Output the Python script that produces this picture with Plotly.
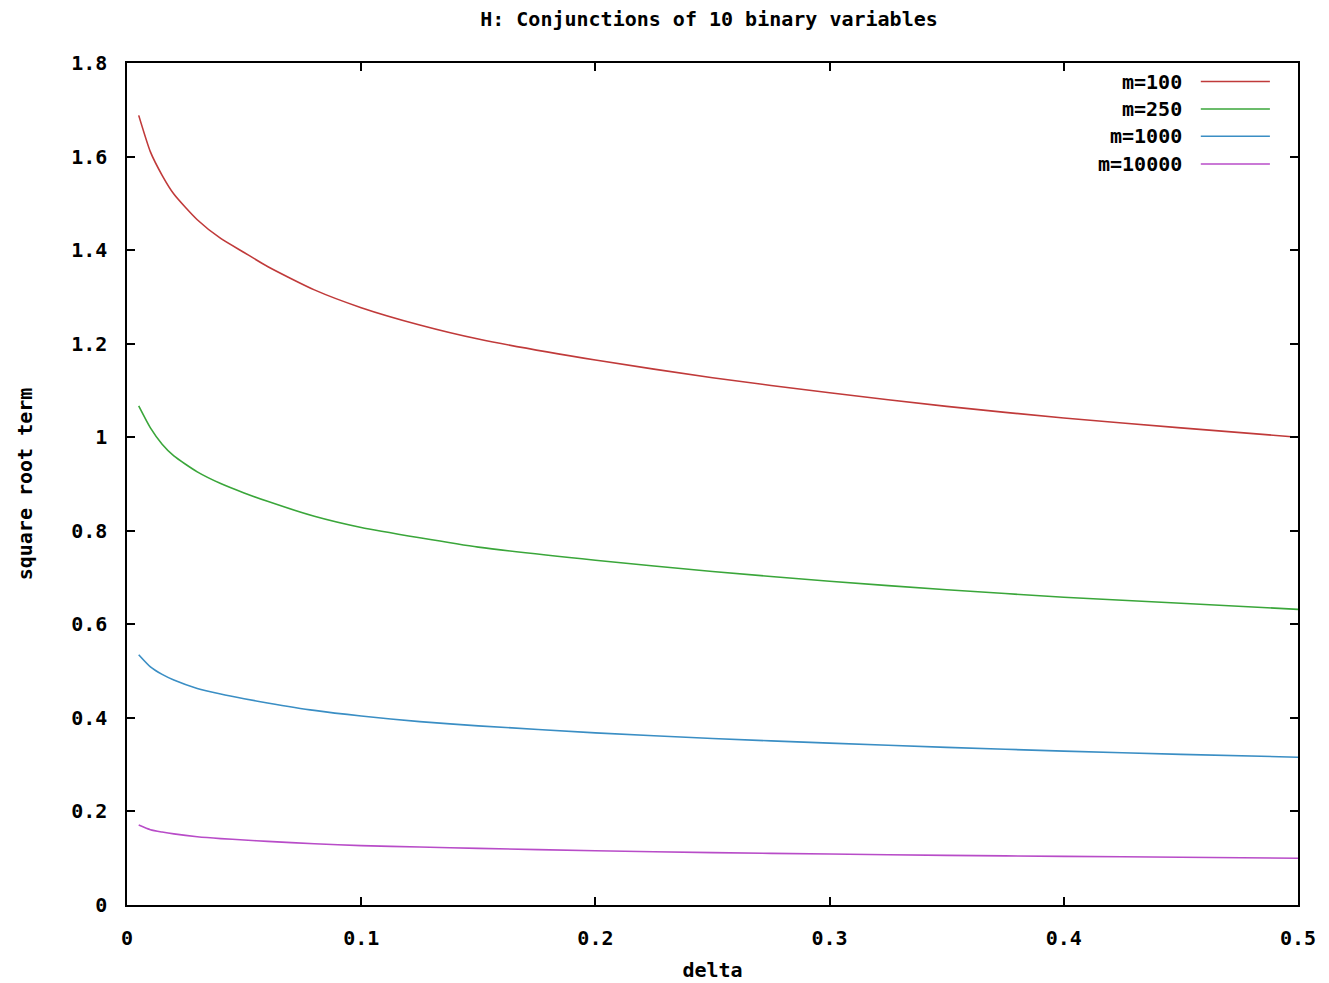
import plotly.graph_objects as go

# Data
delta = [0.005, 0.01, 0.015, 0.02, 0.03, 0.04, 0.05, 0.06, 0.08, 0.1,
         0.125, 0.15, 0.2, 0.25, 0.3, 0.35, 0.4, 0.45, 0.5]

m100 = [1.688, 1.61, 1.56, 1.52, 1.465, 1.425, 1.395, 1.365, 1.315, 1.277,
        1.24, 1.21, 1.165, 1.127, 1.095, 1.066, 1.041, 1.02, 1.0]
m250 = [1.067, 1.02, 0.985, 0.96, 0.926, 0.901, 0.881, 0.863, 0.831, 0.807,
        0.785, 0.765, 0.737, 0.713, 0.692, 0.674, 0.658, 0.645, 0.632]
m1000 = [0.535, 0.509, 0.493, 0.481, 0.463, 0.451, 0.441, 0.432, 0.416, 0.404,
         0.392, 0.383, 0.368, 0.356, 0.346, 0.337, 0.329, 0.322, 0.316]
m10000 = [0.171, 0.161, 0.156, 0.152, 0.146, 0.142, 0.139, 0.136, 0.131, 0.127,
          0.124, 0.121, 0.116, 0.112, 0.109, 0.106, 0.104, 0.102, 0.1]

series_names = ["m=100", "m=250", "m=1000", "m=10000"]
series_vals = [m100, m250, m1000, m10000]
colors = ["#c03a3a", "#3aa63a", "#3a8ec4", "#b84cc8"]

x_ticks = [0, 0.1, 0.2, 0.3, 0.4, 0.5]
y_ticks = [0, 0.2, 0.4, 0.6, 0.8, 1.0, 1.2, 1.4, 1.6, 1.8]

FONT = "DejaVu Sans Mono"
FS = 20

def font():
    return dict(family=FONT, size=FS, color="black", weight="bold")

fig = go.Figure()
for name, vals, col in zip(series_names, series_vals, colors):
    fig.add_trace(go.Scatter(x=delta, y=vals, mode="lines", name=name,
                             line=dict(color=col, width=1.6, shape="spline", smoothing=0.6),
                             showlegend=False))

# gnuplot-style legend: text right-aligned, sample line to the right
legend_y = [0.978, 0.9454, 0.913, 0.880]
for name, col, ly in zip(series_names, colors, legend_y):
    fig.add_annotation(x=0.9026, y=ly, xref="paper", yref="paper", text=name,
                       showarrow=False, xanchor="right", yanchor="middle",
                       font=font())
    fig.add_shape(type="line", xref="paper", yref="paper",
                  x0=0.917, x1=0.976, y0=ly, y1=ly,
                  line=dict(color=col, width=1.6))

axis_common = dict(showline=True, linecolor="black", linewidth=1.5, mirror="ticks",
                   ticks="inside", ticklen=8, tickcolor="black", tickwidth=1.5,
                   showgrid=False, zeroline=False, tickfont=font())

fig.update_layout(
    width=1329, height=983,
    paper_bgcolor="white", plot_bgcolor="white",
    margin=dict(l=119, r=39, t=55, b=86),
    title=dict(text="H: Conjunctions of 10 binary variables", xref="paper", x=0.497,
               xanchor="center", y=0.989, yanchor="middle", font=font()),
    xaxis=dict(range=[0, 0.5], tickvals=x_ticks, ticklabelstandoff=14,
               title=dict(text="delta", standoff=14, font=font()),
               **axis_common),
    yaxis=dict(range=[0, 1.8], tickvals=y_ticks, ticklabelstandoff=14,
               title=dict(text="square root term", standoff=33, font=font()),
               **axis_common),
)

fig.write_html("out.html")
